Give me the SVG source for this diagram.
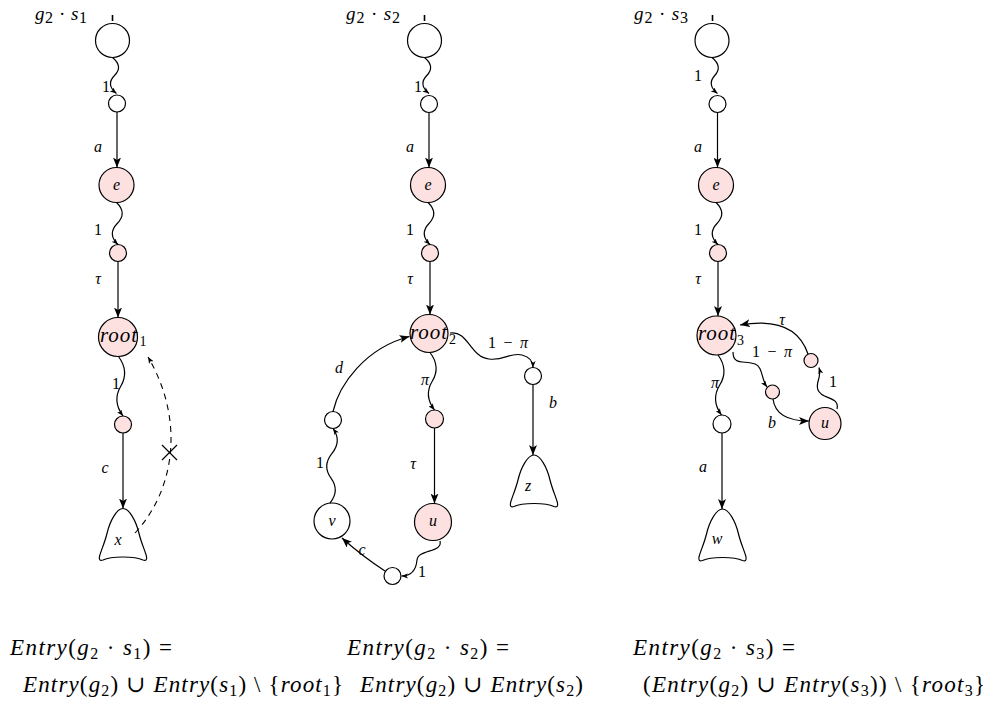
<svg xmlns="http://www.w3.org/2000/svg" xmlns:xlink="http://www.w3.org/1999/xlink" width="992" height="704" viewBox="0 0 992 704">
  <style>
    .w { fill:#ffffff; stroke:#000; stroke-width:1.2; }
    .p { fill:#fde0e0; stroke:#000; stroke-width:1.2; }
    .ln { fill:none; stroke:#000; stroke-width:1.2; }
    .st { marker-end:url(#arr); }
    .wv { marker-end:url(#arrs); }
    .dash { fill:none; stroke:#000; stroke-width:1.1; stroke-dasharray:6 5; marker-end:url(#arrs); }
    text { font-family:"Liberation Serif", "DejaVu Serif", serif; fill:#000; }
    .i { font-style:italic; }
    .lab { font-size:16px; text-anchor:middle; }
    .nl { font-size:16px; font-style:italic; text-anchor:middle; }
    .rt { font-size:21px; font-style:italic; }
    .sub { font-size:14px; font-style:normal; }
    .eq { font-size:23px; }
    .sb { font-size:16px; font-style:normal; }
  </style>
  <defs>
    <marker id="arr" viewBox="0 0 10 8" refX="10" refY="4" markerWidth="10" markerHeight="8" markerUnits="userSpaceOnUse" orient="auto">
      <path d="M0,0 L10,4 L0,8 L2.5,4 Z" fill="#000"/>
    </marker>
    <marker id="arrs" viewBox="0 0 10 8" refX="10" refY="4" markerWidth="6.5" markerHeight="5.2" markerUnits="userSpaceOnUse" orient="auto">
      <path d="M0,0 L10,4 L0,8 L2.5,4 Z" fill="#000"/>
    </marker>
    <!-- exit (terminal) node outline: rounded bell, apex at origin -->
    <path id="exit" d="M0,0 C6,0 13,12 16,25 C18.5,35 22,42 23.5,48 Q24.5,53 20,51.5 C12,47.5 -12,47.5 -20,51.5 Q-24.5,53 -23.5,48 C-22,42 -18.5,35 -16,25 C-13,12 -6,0 0,0 Z" fill="#fff" stroke="#000" stroke-width="1.2"/>
  </defs>

  <!-- ===================== g2 . s1 ===================== -->
  <text x="35" y="20" font-size="19" textLength="52" lengthAdjust="spacing"><tspan class="i">g</tspan><tspan class="sb" dy="3">2</tspan><tspan dy="-3"> · </tspan><tspan class="i">s</tspan><tspan class="sb" dy="3">1</tspan></text>

  <g id="p1-start"><line x1="112.5" y1="15" x2="112.5" y2="21" stroke="#000" stroke-width="1.6"/><circle class="w" cx="112.5" cy="40.5" r="17"/></g>
  <g id="p1-n1"><circle class="w" cx="117" cy="103.5" r="8.5"/></g>
  <g id="p1-e"><circle class="p" cx="116.5" cy="185" r="17.5"/><text class="nl" x="116.5" y="189.5">e</text></g>
  <g id="p1-n2"><circle class="p" cx="118" cy="253" r="8.5"/></g>
  <g id="p1-root"><circle class="p" cx="118" cy="337" r="19.5"/><text class="rt" x="100" y="341.5" textLength="37" lengthAdjust="spacing">root</text><text class="sub" x="139.5" y="346">1</text></g>
  <g id="p1-n3"><circle class="p" cx="123" cy="424.5" r="8.5"/></g>
  <g id="p1-x"><use xlink:href="#exit" x="123" y="508.5"/><text class="nl" x="118" y="545" font-size="17">x</text></g>

  <g id="p1-edges">
    <path class="ln wv" d="M112.5,57.5 q11,9 2,18 t2,18"/>
    <path class="ln st" d="M117,112 L117,167.5"/>
    <path class="ln wv" d="M116.5,202.5 q11,10.5 0.75,21 t0.75,21"/>
    <path class="ln st" d="M118,261.5 L118,317.5"/>
    <path class="ln wv" d="M118.5,356.5 q11,15 2.25,29.75 t2.25,29.75"/>
    <path class="ln st" d="M123,433 L123,508.5"/>
    <path class="dash" d="M135,533 C175,490 185,420 148,357"/>
    <path class="ln" d="M162,445 L177,460 M162,460 L177,445"/>
    <text class="lab" x="106" y="92">1</text>
    <text class="lab i" x="98" y="152">a</text>
    <text class="lab" x="98" y="235">1</text>
    <text class="lab i" x="98" y="284">τ</text>
    <text class="lab" x="116" y="389">1</text>
    <text class="lab i" x="105" y="473">c</text>
  </g>

  <!-- ===================== g2 . s2 ===================== -->
  <text x="346" y="20" font-size="19" textLength="54" lengthAdjust="spacing"><tspan class="i">g</tspan><tspan class="sb" dy="3">2</tspan><tspan dy="-3"> · </tspan><tspan class="i">s</tspan><tspan class="sb" dy="3">2</tspan></text>

  <g id="p2-start"><line x1="424.5" y1="15" x2="424.5" y2="21" stroke="#000" stroke-width="1.6"/><circle class="w" cx="424.5" cy="40.5" r="17"/></g>
  <g id="p2-n1"><circle class="w" cx="429" cy="104" r="8.5"/></g>
  <g id="p2-e"><circle class="p" cx="428" cy="185" r="17.5"/><text class="nl" x="428" y="189.5">e</text></g>
  <g id="p2-n2"><circle class="p" cx="430" cy="253" r="8.5"/></g>
  <g id="p2-root"><circle class="p" cx="429" cy="333.5" r="19"/><text class="rt" x="410" y="339" textLength="37" lengthAdjust="spacing">root</text><text class="sub" x="449" y="343.5">2</text></g>
  <g id="p2-n3"><circle class="p" cx="434.5" cy="419" r="9"/></g>
  <g id="p2-u"><circle class="p" cx="433" cy="522" r="18.5"/><text class="nl" x="433" y="526">u</text></g>
  <g id="p2-n4"><circle class="w" cx="392.5" cy="576" r="8.5"/></g>
  <g id="p2-v"><circle class="w" cx="332" cy="521" r="18"/><text class="nl" x="332" y="525.5">v</text></g>
  <g id="p2-n5"><circle class="w" cx="333" cy="420" r="8.5"/></g>
  <g id="p2-n6"><circle class="w" cx="533" cy="376" r="8.5"/></g>
  <g id="p2-z"><use xlink:href="#exit" x="534" y="455"/><text class="nl" x="528" y="491" font-size="17">z</text></g>

  <g id="p2-edges">
    <path class="ln wv" d="M424.5,57.5 q11,9 2.25,18 t2.25,18"/>
    <path class="ln st" d="M429,112.5 L429,167.5"/>
    <path class="ln wv" d="M428,202.5 q11,10.5 1,21 t1,21"/>
    <path class="ln st" d="M430,261.5 L430,314.5"/>
    <path class="ln wv" d="M430,352.5 q11,14.5 2.25,28.75 t2.25,28.75"/>
    <path class="ln st" d="M434.5,428 L434.5,503.5"/>
    <path class="ln wv" d="M440,541 C443,553 418,549 417,560 C416,571 411,576 401.5,576"/>
    <path class="ln st" d="M385,571 Q362,556 342,538"/>
    <path class="ln wv" d="M330,503 q10,-12.4 1,-24.8 t1,-24.8 t1,-24.9"/>
    <path class="ln st" d="M333,411.5 C339,385 365,348 409.5,336.5"/>
    <path class="ln wv" d="M450,333 C468,330 470,357 489,359 C504,361 510,352 522,355 C530,357 533,361 533,367.5"/>
    <path class="ln st" d="M533,384.5 L533,455"/>
    <text class="lab" x="418" y="92">1</text>
    <text class="lab i" x="410" y="152">a</text>
    <text class="lab" x="410" y="235">1</text>
    <text class="lab i" x="410" y="284">τ</text>
    <text class="lab i" x="425" y="385">π</text>
    <text class="lab i" x="413" y="469">τ</text>
    <text class="lab" x="422" y="577">1</text>
    <text class="lab i" x="362" y="555" font-size="13">c</text>
    <text class="lab" x="320" y="468">1</text>
    <text class="lab i" x="339" y="373">d</text>
    <text class="lab" x="508" y="348" textLength="40" lengthAdjust="spacing">1 − <tspan class="i">π</tspan></text>
    <text class="lab i" x="553" y="408">b</text>
  </g>

  <!-- ===================== g2 . s3 ===================== -->
  <text x="634" y="20" font-size="19" textLength="54" lengthAdjust="spacing"><tspan class="i">g</tspan><tspan class="sb" dy="3">2</tspan><tspan dy="-3"> · </tspan><tspan class="i">s</tspan><tspan class="sb" dy="3">3</tspan></text>

  <g id="p3-start"><line x1="712.5" y1="15" x2="712.5" y2="21" stroke="#000" stroke-width="1.6"/><circle class="w" cx="712" cy="40.5" r="17"/></g>
  <g id="p3-n1"><circle class="w" cx="717.5" cy="104" r="8.5"/></g>
  <g id="p3-e"><circle class="p" cx="716" cy="185" r="17.5"/><text class="nl" x="716" y="189.5">e</text></g>
  <g id="p3-n2"><circle class="p" cx="718" cy="253" r="8.5"/></g>
  <g id="p3-root"><circle class="p" cx="716.5" cy="335.5" r="19.5"/><text class="rt" x="698" y="340" textLength="37" lengthAdjust="spacing">root</text><text class="sub" x="737" y="344.5">3</text></g>
  <g id="p3-n3"><circle class="w" cx="722" cy="424" r="9"/></g>
  <g id="p3-w"><use xlink:href="#exit" x="722.5" y="509"/><text class="nl" x="717" y="544" font-size="17">w</text></g>
  <g id="p3-n4"><circle class="p" cx="772.5" cy="392" r="7"/></g>
  <g id="p3-u"><circle class="p" cx="825" cy="423.5" r="16"/><text class="nl" x="825" y="427.5">u</text></g>
  <g id="p3-n5"><circle class="p" cx="811" cy="360.5" r="7"/></g>

  <g id="p3-edges">
    <path class="ln wv" d="M712,57.5 q11,9 2.75,18 t2.75,18"/>
    <path class="ln st" d="M717.5,112.5 L717.5,167.5"/>
    <path class="ln wv" d="M716,202.5 q11,10.5 1,21 t1,21"/>
    <path class="ln st" d="M718,261.5 L718,316"/>
    <path class="ln wv" d="M718,355 q11,15 1.75,30 t1.75,30"/>
    <path class="ln st" d="M722,433 L722,509"/>
    <path class="ln wv" d="M733,352 C733,366 745,360 755,364 C763,367 761,379 767,387"/>
    <path class="ln st" d="M773,399 C775,415 790,421 809,421"/>
    <path class="ln wv" d="M837,409 C840,396 822,400 818,390 C815,382 822,378 819,367.5"/>
    <path class="ln st" d="M808,354 C800,330 780,318 740,325"/>
    <text class="lab" x="698" y="81">1</text>
    <text class="lab i" x="698" y="152">a</text>
    <text class="lab" x="698" y="235">1</text>
    <text class="lab i" x="698" y="284">τ</text>
    <text class="lab i" x="715" y="388">π</text>
    <text class="lab i" x="703" y="472">a</text>
    <text class="lab" x="772" y="357" textLength="40" lengthAdjust="spacing">1 − <tspan class="i">π</tspan></text>
    <text class="lab i" x="772" y="428">b</text>
    <text class="lab" x="833" y="387">1</text>
    <text class="lab i" x="782" y="325">τ</text>
  </g>

  <!-- ===================== entry-node equations ===================== -->
  <g id="equations">
    <text class="eq" x="10" y="655" textLength="162" lengthAdjust="spacing"><tspan class="i">Entry</tspan>(<tspan class="i">g</tspan><tspan class="sb" dy="4">2</tspan><tspan dy="-4"> · </tspan><tspan class="i">s</tspan><tspan class="sb" dy="4">1</tspan><tspan dy="-4">) =</tspan></text>
    <text class="eq" x="23" y="692" textLength="320" lengthAdjust="spacing"><tspan class="i">Entry</tspan>(<tspan class="i">g</tspan><tspan class="sb" dy="4">2</tspan><tspan dy="-4">) ∪ </tspan><tspan class="i">Entry</tspan>(<tspan class="i">s</tspan><tspan class="sb" dy="4">1</tspan><tspan dy="-4">) \ {</tspan><tspan class="i">root</tspan><tspan class="sb" dy="4">1</tspan><tspan dy="-4">}</tspan></text>

    <text class="eq" x="347" y="655" textLength="162" lengthAdjust="spacing"><tspan class="i">Entry</tspan>(<tspan class="i">g</tspan><tspan class="sb" dy="4">2</tspan><tspan dy="-4"> · </tspan><tspan class="i">s</tspan><tspan class="sb" dy="4">2</tspan><tspan dy="-4">) =</tspan></text>
    <text class="eq" x="360" y="692" textLength="223" lengthAdjust="spacing"><tspan class="i">Entry</tspan>(<tspan class="i">g</tspan><tspan class="sb" dy="4">2</tspan><tspan dy="-4">) ∪ </tspan><tspan class="i">Entry</tspan>(<tspan class="i">s</tspan><tspan class="sb" dy="4">2</tspan><tspan dy="-4">)</tspan></text>

    <text class="eq" x="633" y="655" textLength="162" lengthAdjust="spacing"><tspan class="i">Entry</tspan>(<tspan class="i">g</tspan><tspan class="sb" dy="4">2</tspan><tspan dy="-4"> · </tspan><tspan class="i">s</tspan><tspan class="sb" dy="4">3</tspan><tspan dy="-4">) =</tspan></text>
    <text class="eq" x="643" y="692" textLength="342" lengthAdjust="spacing">(<tspan class="i">Entry</tspan>(<tspan class="i">g</tspan><tspan class="sb" dy="4">2</tspan><tspan dy="-4">) ∪ </tspan><tspan class="i">Entry</tspan>(<tspan class="i">s</tspan><tspan class="sb" dy="4">3</tspan><tspan dy="-4">)) \ {</tspan><tspan class="i">root</tspan><tspan class="sb" dy="4">3</tspan><tspan dy="-4">}</tspan></text>
  </g>
</svg>
